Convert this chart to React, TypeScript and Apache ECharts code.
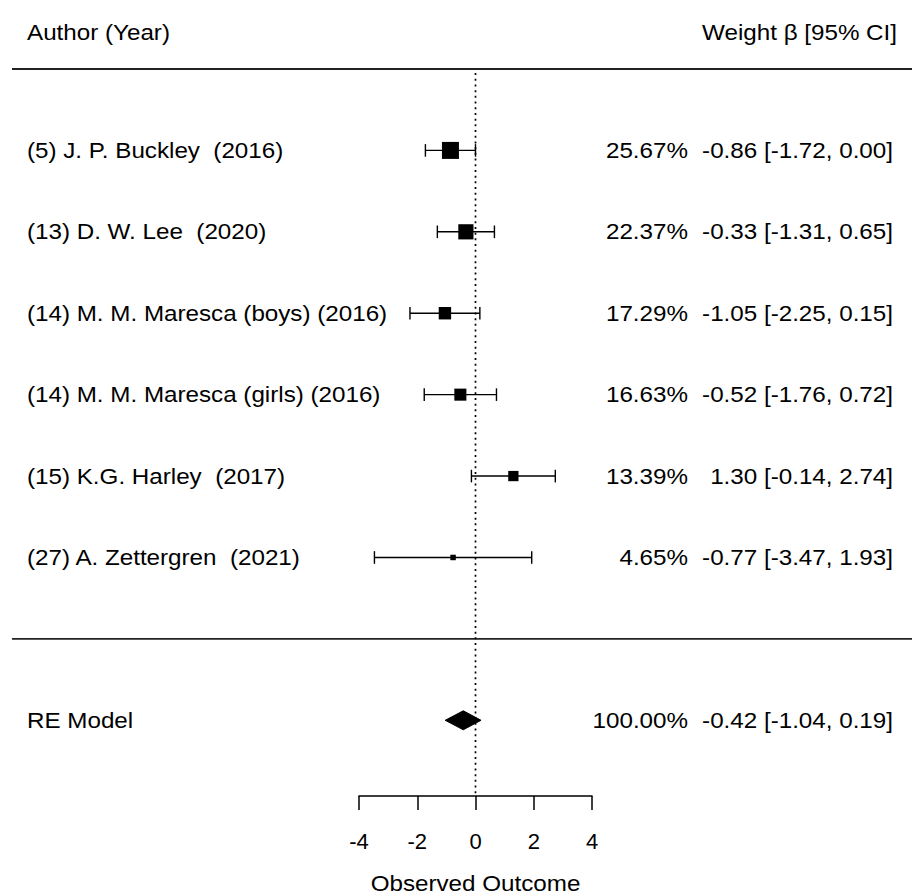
import React, { useEffect, useRef } from "react";
import * as echarts from "echarts";

// ---- data ----
const studyLabels = [
  "(5) J. P. Buckley  (2016)",
  "(13) D. W. Lee  (2020)",
  "(14) M. M. Maresca (boys) (2016)",
  "(14) M. M. Maresca (girls) (2016)",
  "(15) K.G. Harley  (2017)",
  "(27) A. Zettergren  (2021)",
];
const estimates = [-0.86, -0.33, -1.05, -0.52, 1.3, -0.77];
const ciLower = [-1.72, -1.31, -2.25, -1.76, -0.14, -3.47];
const ciUpper = [0.0, 0.65, 0.15, 0.72, 2.74, 1.93];
const weights = [25.67, 22.37, 17.29, 16.63, 13.39, 4.65];

const summaryLabel = "RE Model";
const summaryEstimate = -0.42;
const summaryLower = -1.04;
const summaryUpper = 0.19;
const summaryWeight = 100.0;

const headerLeft = "Author (Year)";
const headerRight = "Weight \u03b2 [95% CI]";
const axisTitle = "Observed Outcome";
const xMin = -4;
const xMax = 4;
const xInterval = 2;

// ---- style constants ----
const FONT = "'Liberation Sans', Arial, Helvetica, sans-serif";
const FS = 22;
const SX = 1.1;
const LEFT_TEXT_X = 27;
const WEIGHT_RIGHT_X = 688;
const EST_RIGHT_X = 893;
const HEADER_RIGHT_X = 897;
const Y_MIN = -1.93;
const Y_MAX = 7;

const fmt = (v: number) => v.toFixed(2);
const minW = Math.min(...weights);
const maxW = Math.max(...weights);
const sizeFor = (w: number) => 5.5 + 11.5 * ((w - minW) / (maxW - minW));

const txt = (text: string, x: number, y: number, align: string, extra: any = {}) => ({
  type: "text",
  x,
  y,
  scaleX: SX,
  silent: true,
  style: {
    text,
    fill: "#000",
    fontSize: FS,
    fontFamily: FONT,
    align,
    textAlign: align,
    verticalAlign: "middle",
    textVerticalAlign: "middle",
    ...extra,
  },
});

export default function App() {
  const ref = useRef<HTMLDivElement>(null);

  useEffect(() => {
    if (!ref.current) return;
    const chart = echarts.init(ref.current, null, { renderer: "svg" });
    const k = studyLabels.length;
    const studyData = estimates.map((e, i) => [e, ciLower[i], ciUpper[i], k - i, weights[i], i]);

    const option: any = {
      animation: false,
      backgroundColor: "#fff",
      grid: { left: 359, right: 320, top: 69, bottom: 98 },
      xAxis: {
        type: "value",
        min: xMin,
        max: xMax,
        interval: xInterval,
        axisLine: { show: true, onZero: false, lineStyle: { color: "#000", width: 1.5 } },
        axisTick: { show: true, inside: false, length: 14, lineStyle: { color: "#000", width: 1.5 } },
        axisLabel: { color: "#000", fontSize: FS, fontFamily: FONT, margin: 34 },
        splitLine: { show: false },
      },
      yAxis: { type: "value", min: Y_MIN, max: Y_MAX, show: false, splitLine: { show: false } },
      series: [
        {
          type: "custom",
          name: "frame",
          clip: false,
          silent: true,
          data: [[0]],
          renderItem: (params: any, api: any) => {
            const W = api.getWidth();
            const yTop = api.coord([0, Y_MAX])[1];
            const ySep = api.coord([0, 0])[1];
            const [x0, yBottom] = api.coord([0, Y_MIN]);
            const yRefTop = api.coord([0, Y_MAX - 0.05])[1];
            const yHeader = api.coord([0, Y_MAX + 0.455])[1];
            return {
              type: "group",
              children: [
                { type: "line", shape: { x1: 12, y1: yTop, x2: W, y2: yTop }, style: { stroke: "#222", lineWidth: 1.8 } },
                { type: "line", shape: { x1: 12, y1: ySep, x2: W, y2: ySep }, style: { stroke: "#222", lineWidth: 1.8 } },
                {
                  type: "line",
                  shape: { x1: x0, y1: yRefTop, x2: x0, y2: yBottom },
                  style: { stroke: "#000", lineWidth: 1.7, lineDash: [2, 3.7] },
                },
                txt(headerLeft, LEFT_TEXT_X, yHeader, "left"),
                txt(headerRight, HEADER_RIGHT_X, yHeader, "right"),
                txt(axisTitle, x0, yBottom + 87, "center"),
              ],
            };
          },
        },
        {
          type: "custom",
          name: "studies",
          clip: false,
          silent: true,
          data: studyData,
          renderItem: (params: any, api: any) => {
            const est = api.value(0);
            const lo = api.value(1);
            const hi = api.value(2);
            const row = api.value(3);
            const w = api.value(4);
            const idx = api.value(5);
            const [xl, y] = api.coord([lo, row]);
            const [xh] = api.coord([hi, row]);
            const [xe] = api.coord([est, row]);
            const s = sizeFor(w);
            const cap = 6.3;
            const ls = { stroke: "#000", lineWidth: 1.4 };
            return {
              type: "group",
              children: [
                { type: "line", shape: { x1: xl, y1: y, x2: xh, y2: y }, style: ls },
                { type: "line", shape: { x1: xl, y1: y - cap, x2: xl, y2: y + cap }, style: ls },
                { type: "line", shape: { x1: xh, y1: y - cap, x2: xh, y2: y + cap }, style: ls },
                { type: "rect", shape: { x: xe - s / 2, y: y - s / 2, width: s, height: s }, style: { fill: "#000" } },
                txt(studyLabels[idx], LEFT_TEXT_X, y, "left"),
                txt(fmt(w) + "%", WEIGHT_RIGHT_X, y, "right"),
                txt(`${fmt(est)} [${fmt(lo)}, ${fmt(hi)}]`, EST_RIGHT_X, y, "right"),
              ],
            };
          },
        },
        {
          type: "custom",
          name: "summary",
          clip: false,
          silent: true,
          data: [[summaryEstimate, summaryLower, summaryUpper, -1, summaryWeight]],
          renderItem: (params: any, api: any) => {
            const est = api.value(0);
            const lo = api.value(1);
            const hi = api.value(2);
            const row = api.value(3);
            const w = api.value(4);
            const [xl, y] = api.coord([lo, row]);
            const [xh] = api.coord([hi, row]);
            const [xe] = api.coord([est, row]);
            const h = 9.5;
            return {
              type: "group",
              children: [
                {
                  type: "polygon",
                  shape: { points: [[xl, y], [xe, y - h], [xh, y], [xe, y + h]] },
                  style: { fill: "#000", stroke: "#000", lineWidth: 1 },
                },
                txt(summaryLabel, LEFT_TEXT_X, y, "left"),
                txt(fmt(w) + "%", WEIGHT_RIGHT_X, y, "right"),
                txt(`${fmt(est)} [${fmt(lo)}, ${fmt(hi)}]`, EST_RIGHT_X, y, "right"),
              ],
            };
          },
        },
      ],
    };
    chart.setOption(option);
    return () => chart.dispose();
  }, []);

  return (
    <div
      ref={ref}
      style={{ position: "fixed", left: 0, top: 0, width: 912, height: 894, background: "#fff" }}
    />
  );
}
